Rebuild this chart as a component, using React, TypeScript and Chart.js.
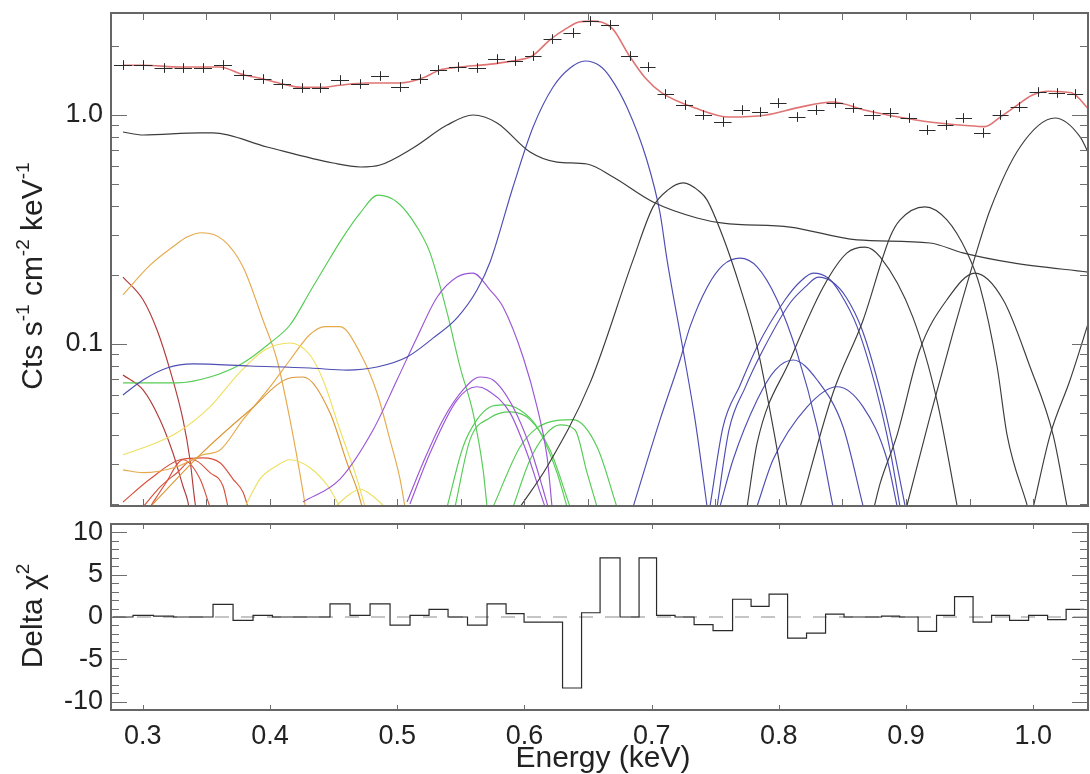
import React, { useEffect, useRef } from 'react';
import { Chart, registerables } from 'chart.js';

Chart.register(...registerables);

type P = [number, number];

const FONT = '"Liberation Sans", Arial, Helvetica, sans-serif';
const TICK_SIZE = 27;
const TITLE_SIZE = 30;

const X_MIN = 0.275;
const X_MAX = 1.043;
const Y_MIN = 0.0196;
const Y_MAX = 2.79;
const D_MIN = -11;
const D_MAX = 11;

// ---- tick values ----
const xTickLabels = [0.3, 0.4, 0.5, 0.6, 0.7, 0.8, 0.9, 1.0];
const topXTicks = [0.3, 0.35, 0.4, 0.45, 0.5, 0.55, 0.6, 0.65, 0.7, 0.75, 0.8, 0.85, 0.9, 0.95, 1.0];
const topYLabels = [0.1, 1.0];
const topYMinor = [0.02, 0.03, 0.04, 0.05, 0.06, 0.07, 0.08, 0.09, 0.2, 0.3, 0.4, 0.5, 0.6, 0.7, 0.8, 0.9, 2.0];
const deltaYLabels = [-10, -5, 0, 5, 10];
const deltaYMinor = [-9, -8, -7, -6, -4, -3, -2, -1, 1, 2, 3, 4, 6, 7, 8, 9];

// ---- observed spectrum (bin centres, counts) ----
const dataEnergy = [
  0.2844, 0.3002, 0.3167, 0.3316, 0.3473, 0.3631, 0.3788, 0.3945, 0.4094, 0.4252,
  0.4393, 0.455, 0.4708, 0.4865, 0.5022, 0.5179, 0.5321, 0.5478, 0.5627, 0.5785,
  0.5926, 0.6068, 0.6217, 0.6382, 0.6516, 0.6673, 0.683, 0.6972, 0.7105, 0.7263,
  0.7404, 0.7561, 0.7711, 0.7852, 0.7994, 0.8143, 0.8292, 0.8442, 0.8583, 0.8741,
  0.8874, 0.9024, 0.9165, 0.9314, 0.9448, 0.9605, 0.9739, 0.9888, 1.0038, 1.0187, 1.0329,
];
const dataCounts = [
  1.653, 1.653, 1.604, 1.604, 1.604, 1.653, 1.495, 1.436, 1.366, 1.312,
  1.312, 1.422, 1.366, 1.48, 1.325, 1.436, 1.572, 1.62, 1.604, 1.756,
  1.721, 1.81, 2.147, 2.281, 2.573, 2.472, 1.81, 1.62, 1.235, 1.106,
  1.0, 0.932, 1.051, 1.03, 1.128, 0.98, 1.051, 1.128, 1.073, 1.0,
  1.02, 0.97, 0.86, 0.904, 0.97, 0.835, 1.0, 1.084, 1.26, 1.248, 1.235,
];
const deltaChi = [
  0, 0.2, 0.1, 0, 0, 1.5, -0.4, 0.2, 0, 0,
  0, 1.55, 0.2, 1.55, -0.95, 0.2, 0.9, 0, -0.95, 1.55,
  0.4, -0.6, -0.6, -8.4, 0.5, 7.0, 0, 7.0, 0.2, 0,
  -0.9, -1.6, 2.1, 1.26, 2.7, -2.5, -1.9, 0.35, 0, 0,
  0.1, 0, -1.7, 0.2, 2.4, -0.6, 0.2, -0.4, 0.2, -0.3, 0.9,
];
const COUNT_ERR = 0.05;

// ---- total model & continuum ----
const modelTotal: P[] = [
  [0.2844, 1.65], [0.3, 1.65], [0.33, 1.62], [0.36, 1.62], [0.379, 1.5], [0.394, 1.44],
  [0.409, 1.37], [0.425, 1.32], [0.44, 1.32], [0.455, 1.35], [0.476, 1.38], [0.502, 1.38],
  [0.52, 1.45], [0.533, 1.57], [0.549, 1.62], [0.57, 1.66], [0.59, 1.72], [0.606, 1.81],
  [0.62, 2.13], [0.633, 2.39], [0.643, 2.55], [0.653, 2.57], [0.669, 2.39], [0.682, 1.83],
  [0.695, 1.45], [0.708, 1.25], [0.735, 1.07], [0.761, 0.98], [0.79, 1.0], [0.816, 1.08],
  [0.842, 1.14], [0.868, 1.05], [0.894, 0.98], [0.92, 0.93], [0.947, 0.9], [0.962, 0.89],
  [0.973, 0.97], [0.986, 1.09], [0.999, 1.22], [1.012, 1.27], [1.03, 1.25], [1.043, 1.07],
];
const continuum: P[] = [
  [0.2844, 0.843], [0.3002, 0.818], [0.345, 0.835], [0.3552, 0.835], [0.3976, 0.725],
  [0.4495, 0.617], [0.4708, 0.593], [0.4865, 0.605], [0.5124, 0.718], [0.5392, 0.904],
  [0.5596, 1.0], [0.5785, 0.923], [0.6044, 0.689], [0.6256, 0.623], [0.6492, 0.611],
  [0.6697, 0.536], [0.7011, 0.417], [0.7357, 0.355], [0.7561, 0.337], [0.8088, 0.324],
  [0.8615, 0.285], [0.9187, 0.276], [0.9446, 0.25], [0.9841, 0.226], [1.0431, 0.206],
];

// ---- line components ----
const compR1: P[] = [[0.2844, 0.196], [0.3002, 0.156], [0.3112, 0.115], [0.3214, 0.0769], [0.3316, 0.0467], [0.3371, 0.0312], [0.341, 0.0204], [0.3426, 0.018]];
const compR2: P[] = [[0.2844, 0.0732], [0.3002, 0.063], [0.3135, 0.0467], [0.3237, 0.0334], [0.3316, 0.0239], [0.3355, 0.0204], [0.3371, 0.018]];
const compR3: P[] = [[0.2844, 0.0204], [0.3057, 0.0257], [0.3292, 0.0312], [0.3473, 0.0318], [0.3607, 0.0303], [0.3709, 0.0257], [0.3788, 0.0225], [0.3827, 0.0194]];
const compR4: P[] = [[0.3002, 0.0194], [0.3135, 0.0237], [0.3269, 0.0274], [0.3395, 0.0312], [0.3528, 0.0274], [0.3631, 0.0239], [0.367, 0.0194]];
const compR5: P[] = [[0.3057, 0.0194], [0.3175, 0.0244], [0.3316, 0.0312], [0.345, 0.0257], [0.3528, 0.0194]];
const compO1: P[] = [[0.2844, 0.164], [0.3057, 0.221], [0.3253, 0.27], [0.3347, 0.293], [0.3465, 0.306], [0.3631, 0.285], [0.3788, 0.217], [0.3945, 0.127], [0.4055, 0.0851], [0.4157, 0.0467], [0.4252, 0.0239], [0.4283, 0.0187]];
const compO2: P[] = [[0.2844, 0.0282], [0.3002, 0.0274], [0.3269, 0.0291], [0.3473, 0.0328], [0.3607, 0.0344], [0.3788, 0.0467], [0.4, 0.065], [0.4157, 0.0851], [0.4314, 0.11], [0.4432, 0.119], [0.455, 0.119], [0.4708, 0.0914], [0.4841, 0.0612], [0.4943, 0.0381], [0.5022, 0.0257], [0.5061, 0.0194]];
const compO3: P[] = [[0.3057, 0.0194], [0.345, 0.0328], [0.3843, 0.0515], [0.4157, 0.071], [0.4259, 0.0717], [0.4472, 0.05], [0.4605, 0.0303], [0.4684, 0.0232], [0.4724, 0.0194]];
const compY1: P[] = [[0.2844, 0.0328], [0.3057, 0.0361], [0.3269, 0.0409], [0.3528, 0.0531], [0.3764, 0.0754], [0.3961, 0.0943], [0.4157, 0.101], [0.4314, 0.0895], [0.4417, 0.0696], [0.455, 0.0421], [0.4684, 0.0257], [0.4747, 0.0194]];
const compY2: P[] = [[0.3803, 0.0194], [0.3921, 0.0257], [0.404, 0.0291], [0.4157, 0.0312], [0.4314, 0.0288], [0.4456, 0.0239], [0.455, 0.0194]];
const compY3: P[] = [[0.4511, 0.0194], [0.4613, 0.0218], [0.4708, 0.0232], [0.4802, 0.0218], [0.4904, 0.0194]];
const compG1: P[] = [[0.2844, 0.0676], [0.3269, 0.0676], [0.3528, 0.0717], [0.3788, 0.0826], [0.4, 0.101], [0.4157, 0.121], [0.4314, 0.169], [0.4417, 0.211], [0.4574, 0.293], [0.4708, 0.373], [0.4849, 0.447], [0.4998, 0.417], [0.5156, 0.324], [0.5258, 0.25], [0.5392, 0.137], [0.5494, 0.0793], [0.5596, 0.05], [0.5675, 0.0282], [0.5706, 0.0194]];
const compGA: P[] = [[0.5392, 0.0194], [0.5517, 0.0355], [0.5627, 0.0467], [0.573, 0.0531], [0.5832, 0.0542], [0.5965, 0.0515], [0.6099, 0.0434], [0.6256, 0.0274], [0.6335, 0.0194]];
const compGB: P[] = [[0.5454, 0.0194], [0.5572, 0.0381], [0.573, 0.0476], [0.5887, 0.0505], [0.6044, 0.0467], [0.6201, 0.0344], [0.6359, 0.0194]];
const compGC: P[] = [[0.5753, 0.0194], [0.5965, 0.0355], [0.6099, 0.043], [0.6201, 0.0457], [0.6382, 0.0467], [0.6571, 0.0355], [0.6727, 0.0194]];
const compGD: P[] = [[0.591, 0.0194], [0.6044, 0.0312], [0.6162, 0.04], [0.628, 0.0443], [0.6398, 0.0421], [0.6492, 0.0274], [0.6571, 0.0194]];
const compP1: P[] = [[0.4259, 0.0204], [0.455, 0.0257], [0.481, 0.0421], [0.4998, 0.0696], [0.5156, 0.107], [0.5313, 0.16], [0.547, 0.196], [0.5596, 0.204], [0.573, 0.172], [0.5832, 0.145], [0.5989, 0.0877], [0.6099, 0.0531], [0.6178, 0.0321], [0.6217, 0.0194]];
const compP2: P[] = [[0.5077, 0.0204], [0.5203, 0.0303], [0.536, 0.0467], [0.5517, 0.063], [0.5651, 0.0717], [0.5753, 0.0696], [0.591, 0.0531], [0.6044, 0.0355], [0.6146, 0.0232], [0.6186, 0.0194]];
const compP3: P[] = [[0.51, 0.02], [0.5258, 0.0334], [0.547, 0.0569], [0.5627, 0.065], [0.5706, 0.063], [0.5887, 0.05], [0.602, 0.0334], [0.6123, 0.0225], [0.6162, 0.0194]];
const compBmain: P[] = [[0.2844, 0.0599], [0.3002, 0.0696], [0.319, 0.0785], [0.3395, 0.0818], [0.3843, 0.0801], [0.4314, 0.0785], [0.4605, 0.0769], [0.4841, 0.0793], [0.5077, 0.0877], [0.5281, 0.106], [0.547, 0.13], [0.5627, 0.172], [0.573, 0.228], [0.591, 0.485], [0.6068, 0.886], [0.6225, 1.325], [0.6359, 1.604], [0.6477, 1.721], [0.6594, 1.637], [0.6673, 1.465], [0.6805, 1.084], [0.6962, 0.636], [0.7066, 0.373], [0.7121, 0.233], [0.7247, 0.0943], [0.7341, 0.0467], [0.7436, 0.0194]];
const compB3: P[] = [[0.6854, 0.0194], [0.7066, 0.0467], [0.7223, 0.0851], [0.7302, 0.119], [0.7436, 0.177], [0.7561, 0.221], [0.7695, 0.237], [0.7829, 0.217], [0.7986, 0.156], [0.8143, 0.0914], [0.8301, 0.0434], [0.8426, 0.0194]];
const compB4: P[] = [[0.7459, 0.0196], [0.7561, 0.0434], [0.7695, 0.066], [0.7829, 0.0973], [0.8049, 0.156], [0.8167, 0.187], [0.827, 0.204], [0.8388, 0.194], [0.8481, 0.167], [0.8615, 0.119], [0.8772, 0.0612], [0.8874, 0.0344], [0.8953, 0.0194]];
const compB5: P[] = [[0.7514, 0.0194], [0.7608, 0.0421], [0.7734, 0.0643], [0.7876, 0.0943], [0.8088, 0.151], [0.8206, 0.177], [0.8309, 0.196], [0.8419, 0.187], [0.8529, 0.16], [0.8655, 0.115], [0.8805, 0.0599], [0.8907, 0.0338], [0.8994, 0.0194]];
const compB6: P[] = [[0.7538, 0.0196], [0.764, 0.0312], [0.7829, 0.0569], [0.7971, 0.0769], [0.8112, 0.0851], [0.8301, 0.0696], [0.8505, 0.0434], [0.8662, 0.0196]];
const compB7: P[] = [[0.7829, 0.0196], [0.7954, 0.0312], [0.8222, 0.0531], [0.8458, 0.065], [0.8662, 0.0531], [0.8851, 0.0312], [0.8929, 0.0196]];
const compK1: P[] = [[0.5965, 0.0194], [0.6178, 0.0291], [0.6516, 0.0676], [0.6854, 0.233], [0.7011, 0.397], [0.7129, 0.471], [0.7247, 0.505], [0.7381, 0.461], [0.7436, 0.425], [0.7561, 0.293], [0.7695, 0.177], [0.7829, 0.0973], [0.7954, 0.0434], [0.8064, 0.0194]];
const compK2: P[] = [[0.775, 0.0194], [0.7829, 0.0369], [0.8088, 0.0851], [0.8348, 0.177], [0.8536, 0.25], [0.8678, 0.265], [0.8796, 0.24], [0.9053, 0.131], [0.9242, 0.0569], [0.94, 0.0198]];
const compKa: P[] = [[0.8167, 0.0194], [0.8426, 0.0612], [0.8662, 0.127], [0.8874, 0.293], [0.8953, 0.348], [0.9148, 0.397], [0.9321, 0.348], [0.948, 0.25], [0.9582, 0.177], [0.9716, 0.0793], [0.9794, 0.04], [0.9951, 0.0198]];
const compKb: P[] = [[0.8749, 0.0194], [0.8796, 0.0246], [0.8929, 0.04], [0.9108, 0.0943], [0.9321, 0.156], [0.9542, 0.204], [0.9763, 0.156], [0.9975, 0.0793], [1.0156, 0.04], [1.0266, 0.0194]];
const compKc: P[] = [[0.9008, 0.0198], [0.9187, 0.0479], [0.9369, 0.112], [0.9558, 0.257], [0.966, 0.385], [0.9896, 0.725], [1.0171, 0.97], [1.0368, 0.802], [1.0447, 0.656]];
const compKe: P[] = [[1.0, 0.0194], [1.0132, 0.04], [1.0289, 0.0696], [1.0447, 0.131]];

const C_RED_DARK = '#b23a3a';
const C_RED = '#d8503c';
const C_ORANGE = '#e6aa4c';
const C_ORANGE2 = '#dc9636';
const C_YELLOW = '#eee060';
const C_GREEN = '#55cc55';
const C_PURPLE = '#9a55d6';
const C_BLUE = '#4d4db4';
const C_BLACK = '#3c3c3c';
const C_MODEL = '#e07474';

const componentList: { pts: P[]; color: string }[] = [
  { pts: compKe, color: C_BLACK }, { pts: compKc, color: C_BLACK }, { pts: compKb, color: C_BLACK },
  { pts: compKa, color: C_BLACK }, { pts: compK2, color: C_BLACK }, { pts: compK1, color: C_BLACK },
  { pts: compB7, color: C_BLUE }, { pts: compB6, color: C_BLUE }, { pts: compB5, color: C_BLUE },
  { pts: compB4, color: C_BLUE }, { pts: compB3, color: C_BLUE }, { pts: compBmain, color: C_BLUE },
  { pts: compP3, color: C_PURPLE }, { pts: compP2, color: C_PURPLE }, { pts: compP1, color: C_PURPLE },
  { pts: compGD, color: C_GREEN }, { pts: compGC, color: C_GREEN }, { pts: compGB, color: C_GREEN },
  { pts: compGA, color: C_GREEN }, { pts: compG1, color: C_GREEN },
  { pts: compY3, color: C_YELLOW }, { pts: compY2, color: C_YELLOW }, { pts: compY1, color: C_YELLOW },
  { pts: compO3, color: C_ORANGE2 }, { pts: compO2, color: C_ORANGE }, { pts: compO1, color: C_ORANGE },
  { pts: compR5, color: C_RED }, { pts: compR4, color: C_RED }, { pts: compR3, color: C_RED },
  { pts: compR2, color: C_RED_DARK }, { pts: compR1, color: C_RED_DARK },
];

const toXY = (pts: P[]) => pts.map(([x, y]) => ({ x, y }));

function binEdges(e: number[]) {
  const lo: number[] = [];
  const hi: number[] = [];
  for (let i = 0; i < e.length; i++) {
    const prev = i > 0 ? e[i - 1] : e[i] - (e[1] - e[0]);
    const next = i < e.length - 1 ? e[i + 1] : e[i] + (e[i] - e[i - 1]);
    lo.push((prev + e[i]) / 2);
    hi.push((e[i] + next) / 2);
  }
  return { lo, hi };
}

type TickSpec = { v: number; len: number };

function framePlugin(xTicks: TickSpec[], yTicks: TickSpec[]) {
  return {
    id: 'frameTicks',
    afterDraw(chart: any) {
      const { ctx, chartArea: a, scales } = chart;
      ctx.save();
      ctx.strokeStyle = '#6e6e6e';
      ctx.lineWidth = 1;
      ctx.beginPath();
      for (const t of xTicks) {
        const px = Math.round(scales.x.getPixelForValue(t.v)) + 0.5;
        ctx.moveTo(px, a.top);
        ctx.lineTo(px, a.top + t.len);
        ctx.moveTo(px, a.bottom);
        ctx.lineTo(px, a.bottom - t.len);
      }
      for (const t of yTicks) {
        const py = Math.round(scales.y.getPixelForValue(t.v)) + 0.5;
        ctx.moveTo(a.left, py);
        ctx.lineTo(a.left + t.len, py);
        ctx.moveTo(a.right, py);
        ctx.lineTo(a.right - t.len, py);
      }
      ctx.stroke();
      ctx.lineWidth = 2;
      ctx.strokeStyle = '#666';
      ctx.strokeRect(a.left, a.top, a.right - a.left, a.bottom - a.top);
      ctx.restore();
    },
  };
}

type Seg = { t: string; sup?: boolean };
type TitleSpec = { segs: Seg[]; x: number; y: number; vertical: boolean };

function titlesPlugin(specs: TitleSpec[]) {
  return {
    id: 'titles',
    afterDraw(chart: any) {
      const ctx = chart.ctx;
      const main = `${TITLE_SIZE}px ${FONT}`;
      const sup = `${Math.round(TITLE_SIZE * 0.64)}px ${FONT}`;
      for (const s of specs) {
        ctx.save();
        ctx.fillStyle = '#222';
        ctx.textBaseline = 'alphabetic';
        ctx.textAlign = 'left';
        let total = 0;
        for (const g of s.segs) {
          ctx.font = g.sup ? sup : main;
          total += ctx.measureText(g.t).width;
        }
        ctx.translate(s.x, s.y);
        if (s.vertical) ctx.rotate(-Math.PI / 2);
        let cx = -total / 2;
        for (const g of s.segs) {
          ctx.font = g.sup ? sup : main;
          ctx.fillText(g.t, cx, g.sup ? -TITLE_SIZE * 0.42 : 0);
          cx += ctx.measureText(g.t).width;
        }
        ctx.restore();
      }
    },
  };
}

function crossesPlugin() {
  const { lo, hi } = binEdges(dataEnergy);
  return {
    id: 'crosses',
    afterDatasetsDraw(chart: any) {
      const { ctx, scales } = chart;
      const xs = scales.x;
      const ys = scales.y;
      ctx.save();
      ctx.strokeStyle = '#2a2a2a';
      ctx.lineWidth = 1;
      ctx.beginPath();
      dataEnergy.forEach((e, i) => {
        const v = dataCounts[i];
        const x = Math.round(xs.getPixelForValue(e)) + 0.5;
        const y = Math.round(ys.getPixelForValue(v)) + 0.5;
        const x0 = xs.getPixelForValue(lo[i]) + 1;
        const x1 = xs.getPixelForValue(hi[i]) - 1;
        ctx.moveTo(x0, y);
        ctx.lineTo(x1, y);
        ctx.moveTo(x, ys.getPixelForValue(v * (1 + COUNT_ERR)));
        ctx.lineTo(x, ys.getPixelForValue(v / (1 + COUNT_ERR)));
      });
      ctx.stroke();
      ctx.restore();
    },
  };
}

const lineDs = (pts: P[], color: string, width = 1.15) => ({
  data: toXY(pts),
  borderColor: color,
  borderWidth: width,
  pointRadius: 0,
  fill: false,
  cubicInterpolationMode: 'monotone' as const,
});

function topConfig(): any {
  const datasets = [
    lineDs(modelTotal, C_MODEL, 1.6),
    lineDs(continuum, C_BLACK, 1.2),
    ...componentList.map((c) => lineDs(c.pts, c.color, 1.15)),
  ];
  const xT = topXTicks.map((v) => ({ v, len: 7 }));
  const yT = [
    ...topYLabels.map((v) => ({ v, len: 16 })),
    ...topYMinor.map((v) => ({ v, len: 8 })),
  ];
  return {
    type: 'line',
    data: { datasets },
    options: {
      animation: false,
      responsive: false,
      devicePixelRatio: 1,
      events: [],
      layout: { padding: { left: 0, right: 2, top: 13, bottom: 6 } },
      plugins: { legend: { display: false }, tooltip: { enabled: false } },
      scales: {
        x: { type: 'linear', min: X_MIN, max: X_MAX, display: false },
        y: {
          type: 'logarithmic',
          min: Y_MIN,
          max: Y_MAX,
          grid: { display: false, drawTicks: false },
          border: { display: false },
          afterBuildTicks: (s: any) => {
            s.ticks = topYLabels.map((value) => ({ value }));
          },
          afterFit: (s: any) => {
            s.width = 111;
            s.paddingTop = 0;
            s.paddingBottom = 0;
          },
          ticks: {
            autoSkip: false,
            padding: 8,
            color: '#222',
            font: { family: FONT, size: TICK_SIZE },
            callback: (v: any) => Number(v).toFixed(1),
          },
        },
      },
    },
    plugins: [
      framePlugin(xT, yT),
      crossesPlugin(),
      titlesPlugin([
        {
          segs: [{ t: 'Cts s' }, { t: '-1', sup: true }, { t: ' cm' }, { t: '-2', sup: true }, { t: ' keV' }, { t: '-1', sup: true }],
          x: 42,
          y: 276,
          vertical: true,
        },
      ]),
    ],
  };
}

function deltaConfig(): any {
  const { lo, hi } = binEdges(dataEnergy);
  const stepPts = deltaChi.map((d, i) => ({ x: lo[i], y: d }));
  stepPts.push({ x: hi[hi.length - 1], y: deltaChi[deltaChi.length - 1] });
  const xT = xTickLabels.map((v) => ({ v, len: 5 }));
  const yT = [
    ...deltaYLabels.map((v) => ({ v, len: 16 })),
    ...deltaYMinor.map((v) => ({ v, len: 8 })),
  ];
  return {
    type: 'line',
    data: {
      datasets: [
        {
          data: stepPts,
          borderColor: '#2a2a2a',
          borderWidth: 1.2,
          pointRadius: 0,
          stepped: true,
          fill: false,
        },
        {
          data: [{ x: X_MIN, y: 0 }, { x: X_MAX, y: 0 }],
          borderColor: '#8a8a8a',
          borderWidth: 1,
          borderDash: [14, 12],
          pointRadius: 0,
          fill: false,
        },
      ],
    },
    options: {
      animation: false,
      responsive: false,
      devicePixelRatio: 1,
      events: [],
      layout: { padding: { left: 0, right: 2, top: 12, bottom: 0 } },
      plugins: { legend: { display: false }, tooltip: { enabled: false } },
      scales: {
        x: {
          type: 'linear',
          min: X_MIN,
          max: X_MAX,
          grid: { display: false, drawTicks: false },
          border: { display: false },
          afterBuildTicks: (s: any) => {
            s.ticks = xTickLabels.map((value) => ({ value }));
          },
          afterFit: (s: any) => {
            s.height = 64;
            s.paddingLeft = 0;
            s.paddingRight = 0;
          },
          ticks: {
            autoSkip: false,
            maxRotation: 0,
            padding: 10,
            color: '#222',
            font: { family: FONT, size: TICK_SIZE },
            callback: (v: any) => Number(v).toFixed(1),
          },
        },
        y: {
          type: 'linear',
          min: D_MIN,
          max: D_MAX,
          grid: { display: false, drawTicks: false },
          border: { display: false },
          afterBuildTicks: (s: any) => {
            s.ticks = deltaYLabels.map((value) => ({ value }));
          },
          afterFit: (s: any) => {
            s.width = 111;
            s.paddingTop = 0;
            s.paddingBottom = 0;
          },
          ticks: {
            autoSkip: false,
            padding: 8,
            color: '#222',
            font: { family: FONT, size: TICK_SIZE },
            callback: (v: any) => String(v),
          },
        },
      },
    },
    plugins: [
      framePlugin(xT, yT),
      titlesPlugin([
        { segs: [{ t: 'Delta ' }, { t: 'χ' }, { t: '2', sup: true }], x: 42, y: 104, vertical: true },
        { segs: [{ t: 'Energy (keV)' }], x: 603, y: 255, vertical: false },
      ]),
    ],
  };
}

export default function App() {
  const topRef = useRef<HTMLCanvasElement>(null);
  const botRef = useRef<HTMLCanvasElement>(null);
  useEffect(() => {
    const top = new Chart(topRef.current as HTMLCanvasElement, topConfig());
    const bot = new Chart(botRef.current as HTMLCanvasElement, deltaConfig());
    return () => {
      top.destroy();
      bot.destroy();
    };
  }, []);
  return (
    <div style={{ position: 'fixed', left: 0, top: 0, width: 1090, height: 774, background: '#fff' }}>
      <canvas
        ref={topRef}
        width={1090}
        height={512}
        style={{ position: 'absolute', left: 0, top: 0, width: 1090, height: 512 }}
      />
      <canvas
        ref={botRef}
        width={1090}
        height={262}
        style={{ position: 'absolute', left: 0, top: 512, width: 1090, height: 262 }}
      />
    </div>
  );
}
